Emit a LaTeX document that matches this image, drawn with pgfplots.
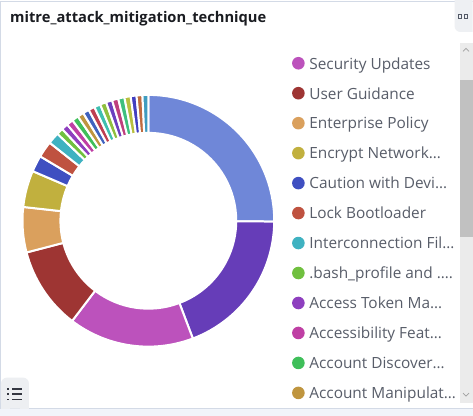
\documentclass[border=0pt]{standalone}
\usepackage{pgfplots}
\pgfplotsset{compat=1.18}
\usepackage{pgfplotstable}
\usepackage{fontspec}
\setmainfont{Open Sans}
\definecolor{s1}{HTML}{6F87D8}
\definecolor{s2}{HTML}{663DB8}
\definecolor{s3}{HTML}{BC52BC}
\definecolor{s4}{HTML}{9E3533}
\definecolor{s5}{HTML}{DAA05D}
\definecolor{s6}{HTML}{C1B03E}
\definecolor{s7}{HTML}{3F4FC1}
\definecolor{s8}{HTML}{BF5240}
\definecolor{s9}{HTML}{3FB2C1}
\definecolor{s10}{HTML}{70C03F}
\definecolor{s11}{HTML}{8E3FBF}
\definecolor{s12}{HTML}{BF3FA4}
\definecolor{s13}{HTML}{3FBF5A}
\definecolor{s14}{HTML}{BF953F}
\definecolor{s15}{HTML}{3F62BF}
\definecolor{s16}{HTML}{BF3F52}
\definecolor{s17}{HTML}{3FBFB0}
\definecolor{s18}{HTML}{8FBF3F}
\definecolor{s19}{HTML}{6B3FBF}
\definecolor{s20}{HTML}{BF3F7E}
\definecolor{s21}{HTML}{3FBF7E}
\definecolor{s22}{HTML}{B8BF3F}
\definecolor{s23}{HTML}{423FBF}
\definecolor{s24}{HTML}{BF6B3F}
\definecolor{s25}{HTML}{3F9CBF}
\definecolor{legtext}{HTML}{585D69}
\definecolor{titletext}{HTML}{1A1C21}
\definecolor{panelborder}{HTML}{D3DAE6}
\definecolor{belowpanel}{HTML}{F1F4FA}
\definecolor{track}{HTML}{EBEBEB}
\definecolor{thumb}{HTML}{C1C1C1}
\definecolor{arrowgray}{HTML}{A0A0A0}
\definecolor{btn}{HTML}{EEF0F3}
\definecolor{icon}{HTML}{343741}
\definecolor{icon2}{HTML}{535966}
\definecolor{togglebg}{HTML}{EDEFF2}

\pgfplotstableread{
val col
25.1 s1
19.15 s2
16.1 s3
10.6 s4
5.8 s5
4.7 s6
2.1 s7
2.1 s8
1.5 s9
0.85 s10
0.85 s11
0.85 s12
0.85 s13
0.8 s14
0.8 s15
0.8 s16
0.8 s17
0.8 s18
0.8 s19
0.8 s20
0.8 s21
0.8 s22
0.75 s23
0.75 s24
0.75 s25
}\donutdata

\begin{document}
\begin{tikzpicture}[x=1pt,y=1pt]
% background and panel frame
\fill[white] (0,0) rectangle (473,-416);
\fill[belowpanel] (0,-409) rectangle (473,-416);
\draw[panelborder, line width=1pt] (473,-1) -- (1,-1) -- (1,-409) -- (473,-409);
% top-right button
\begin{scope}
\clip (0,0) rectangle (473,-416);
\fill[btn, rounded corners=6pt] (455,8) rectangle (480,-32);
\end{scope}
\draw[icon2, line width=0.7pt] (458.5,-14.5) rectangle (462,-18);
\draw[icon2, line width=0.7pt] (464.5,-14.5) rectangle (468,-18);
% title
\node[anchor=base west, inner sep=0pt, font=\fontsize{14.7}{17}\selectfont\bfseries, text=titletext] at (10,-23) {mitre\_attack\_mitigation\_technique};
% scrollbar
\fill[track] (460,-43) rectangle (473,-403);
\fill[thumb] (460,-80) rectangle (473,-237);
\draw[arrowgray, line width=0.7pt] (463.5,-51.5) -- (466.5,-48.5) -- (469.5,-51.5);
\draw[arrowgray, line width=0.7pt] (463.5,-393.5) -- (466.5,-396.5) -- (469.5,-393.5);
% bottom-left legend toggle
\fill[togglebg, rounded corners=6pt] (1,-378) -- (29,-378) -- (29,-409) -- (1,-409) -- cycle;
\fill[togglebg] (1,-385) rectangle (10,-409);
\fill[togglebg] (20,-400) rectangle (29,-409);
\foreach \yy in {389.3,394.6,400} {
  \fill[icon] (7.5,-\yy+0.8) rectangle (9.3,-\yy-0.8);
  \fill[icon] (11.8,-\yy+0.7) rectangle (22.5,-\yy-0.7);
}
% legend
\begin{scope}[font=\fontsize{15.4}{18}\selectfont]
\foreach \k/\col/\txt in {0/s3/Security Updates,1/s4/User Guidance,2/s5/Enterprise Policy,3/s6/Encrypt Network…,4/s7/Caution with Devi…,5/s8/Lock Bootloader,6/s9/Interconnection Fil…,7/s10/.bash\_profile and ….,8/s11/Access Token Ma…,9/s12/Accessibility Feat…,10/s13/Account Discover…,11/s14/Account Manipulat…} {
  \pgfmathsetmacro\yy{63.3+30*\k}
  \fill[\col] (298.7,-\yy) circle[radius=6.3pt];
  \node[anchor=base west, inner sep=0pt, text=legtext] at (309.5,-\yy-5.8) {\txt};
}
\end{scope}
% donut
\begin{axis}[
  at={(148.5,-221)}, anchor=origin,
  x=1pt, y=1pt,
  xmin=-130, xmax=130, ymin=-130, ymax=130,
  hide axis, clip=false,
]
\pgfplotstablegetrowsof{\donutdata}
\pgfmathtruncatemacro\nrows{\pgfplotsretval-1}
\gdef\cumval{0}
\pgfplotsforeachungrouped \i in {0,...,\nrows}{%
  \pgfplotstablegetelem{\i}{val}\of\donutdata \let\sliceval=\pgfplotsretval
  \pgfplotstablegetelem{\i}{col}\of\donutdata \let\slicecol=\pgfplotsretval
  \pgfmathsetmacro\angA{90-\cumval*3.6}
  \pgfmathsetmacro\angB{90-(\cumval+\sliceval)*3.6}
  \pgfmathsetmacro\xo{126*cos(\angA)}
  \pgfmathsetmacro\yo{126*sin(\angA)}
  \pgfmathsetmacro\xi{88*cos(\angB)}
  \pgfmathsetmacro\yi{88*sin(\angB)}
  \edef\temp{\noexpand\fill[fill=\slicecol, draw=white, line width=2pt, line join=round] (axis cs:\xo,\yo) arc[start angle=\angA, end angle=\angB, radius=126pt] -- (axis cs:\xi,\yi) arc[start angle=\angB, end angle=\angA, radius=88pt] -- cycle;}
  \temp
  \pgfmathsetmacro\cumval{\cumval+\sliceval}
}
\end{axis}
\end{tikzpicture}
\end{document}
